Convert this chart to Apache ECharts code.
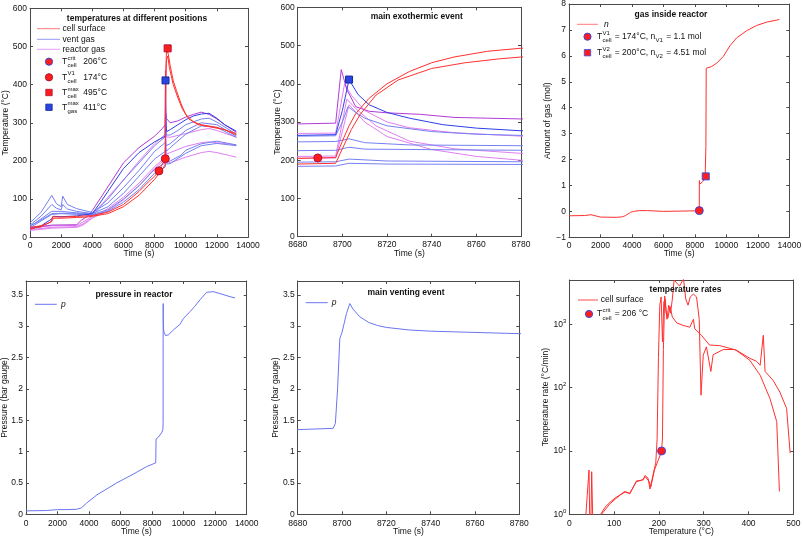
<!DOCTYPE html>
<html><head><meta charset="utf-8">
<script src="https://cdn.jsdelivr.net/npm/echarts@6/dist/echarts.min.js"></script>
<style>html,body{margin:0;padding:0;background:#fff}#c{width:803px;height:538px}</style>
</head><body><div id="c"></div>
<script>
// ---------------- DATA ----------------
// Temperatures (time s, °C)
const cellSurface1 = [[0,26],[700,30],[1350,40],[1450,54],[2000,53],[3000,55],[3600,56],[4000,57],[5000,66],[6000,86],[7000,120],[7600,145],[8000,160],[8280,174],[8500,192],[8680,205],[8697,207],[8700,250],[8703,290],[8706,322],[8712,362],[8720,400],[8730,432],[8740,455],[8750,470],[8765,485],[8780,493],[8840,495],[8880,480],[9000,450],[9200,410],[9400,385],[9700,350],[10000,322],[10500,302],[11000,295],[12000,288],[13250,272]];
const cellSurface2 = [[0,22],[700,27],[1400,42],[1500,50],[2000,50],[3000,52],[3600,53],[4000,55],[5000,62],[6000,80],[7000,110],[8000,152],[8500,178],[8680,190],[8697,192],[8700,230],[8704,280],[8708,320],[8715,370],[8725,410],[8740,440],[8755,455],[8770,465],[8780,470],[8850,475],[8950,445],[9200,400],[9500,365],[9800,335],[10200,310],[10800,295],[11500,290],[12500,282],[13250,268]];
const ventGas1 = [[0,22],[700,30],[1400,48],[1500,55],[2000,54],[3000,56],[4000,62],[4500,90],[5000,120],[6000,180],[7000,222],[8000,250],[8680,265],[8697,267],[8700,330],[8703,411],[8707,372],[8712,345],[8720,325],[8730,310],[8745,293],[8760,284],[8780,277],[9000,282],[9500,295],[10000,308],[10500,318],[11000,323],[11500,325],[12000,312],[12500,295],[13250,278]];
const ventGas2 = [[0,30],[700,45],[1400,62],[2000,63],[3000,63],[4000,62],[5000,100],[6000,150],[7000,195],[8000,240],[8680,263],[8697,264],[8700,300],[8702.5,340],[8706,325],[8710,310],[8720,290],[8740,275],[8760,268],[8780,265],[9000,268],[9500,280],[10000,295],[11000,310],[11500,312],[12000,302],[13250,270]];
const ventGas3 = [[0,38],[700,65],[1400,110],[1700,88],[2000,80],[2100,108],[2400,86],[3000,75],[4000,65],[5000,90],[6000,130],[7000,175],[8000,225],[8680,248],[8697,249],[8703,256],[8710,246],[8730,240],[8780,238],[9000,245],[10000,280],[11000,300],[12000,295],[13250,265]];
const ventGas4 = [[0,32],[700,55],[1400,86],[1700,76],[2000,72],[2100,86],[2400,74],[3000,68],[4000,62],[5000,80],[6000,115],[7000,160],[8000,205],[8680,225],[8697,226],[8703,234],[8710,229],[8780,226],[9000,235],[10000,270],[11000,292],[12000,288],[13250,262]];
const ventGas5 = [[0,28],[1400,68],[2000,68],[3000,64],[4000,60],[5000,72],[6000,100],[7000,135],[8000,178],[8680,195],[8697,196],[8703,203],[8720,198],[8780,196],[9000,200],[9700,215],[10000,228],[11000,245],[12000,252],[13250,242]];
const ventGas6 = [[0,25],[1400,60],[2000,62],[3000,60],[4000,58],[5000,68],[6000,92],[7000,125],[8000,168],[8680,184],[8697,185],[8703,192],[8720,190],[8780,189],[9000,193],[10000,220],[11000,240],[12000,246],[13250,240]];
const reactorGas1 = [[0,25],[1400,32],[3000,33],[3300,45],[3700,55],[4000,70],[5000,132],[6000,195],[7000,235],[8000,265],[8500,285],[8680,295],[8697,297],[8699.5,437],[8702,385],[8706,340],[8712,328],[8720,324],[8735,320],[8750,312],[8765,310],[8780,308],[9000,300],[9500,305],[10000,315],[10500,322],[11000,328],[11500,322],[12000,310],[12500,295],[13250,275]];
const reactorGas2 = [[0,24],[1400,30],[3000,31],[3400,40],[4000,55],[4500,80],[5000,105],[6000,150],[7000,200],[8000,245],[8680,270],[8697,271],[8701,400],[8704,370],[8710,330],[8720,300],[8730,285],[8750,272],[8780,263],[9000,262],[10000,272],[11000,282],[11500,285],[12000,280],[13250,262]];
const reactorGas3 = [[0,20],[1400,26],[3000,28],[3400,35],[4000,52],[5000,75],[6000,105],[7000,142],[8000,185],[8680,210],[8697,211],[8702,360],[8706,335],[8715,290],[8730,250],[8750,230],[8780,218],[9000,222],[10000,238],[11000,248],[11500,250],[12000,248],[13250,242]];
const reactorGas4 = [[0,18],[1400,24],[3000,26],[3400,32],[4000,50],[5000,70],[6000,98],[7000,135],[8000,180],[8680,205],[8697,206],[8703,345],[8710,300],[8720,262],[8740,228],[8760,210],[8780,200],[9000,195],[10000,210],[11000,222],[11500,225],[12000,222],[13250,210]];
const markCrit = [[8689,206]];
const markV1 = [[8280,174]];
const markCellMax = [[8840,495]];
const markGasMax = [[8703,411]];
// Amount of gas (time s, mol)
const gasAmount = [[0,-0.17],[1000,-0.16],[1400,-0.13],[1500,-0.16],[2000,-0.22],[3000,-0.23],[3400,-0.21],[3600,-0.16],[3900,-0.04],[4100,0.0],[4500,0.03],[5000,0.03],[6000,0.0],[7000,0.01],[8000,0.02],[8280,0.03],[8285,1.19],[8310,1.05],[8500,1.15],[8650,1.30],[8690,1.35],[8700,2.5],[8720,5.52],[9070,5.59],[9390,5.72],[9810,5.98],[10230,6.39],[10650,6.69],[11290,6.97],[11920,7.17],[12560,7.30],[13360,7.40]];
const markNV1 = [[8280,0.03]];
const markNV2 = [[8690,1.35]];
// Pressure (time s, bar gauge)
const pressure = [[0,0.055],[1300,0.06],[1420,0.085],[2000,0.075],[2600,0.075],[3200,0.08],[3500,0.1],[3850,0.18],[4500,0.31],[5750,0.5],[6800,0.64],[7650,0.76],[8230,0.82],[8250,1.2],[8400,1.23],[8600,1.3],[8680,1.35],[8696,1.37],[8697,1.45],[8698,2.0],[8699,2.8],[8700,2.9],[8702,3.2],[8703.5,3.36],[8705,3.27],[8708,3.15],[8712,3.06],[8716,3.01],[8720,2.98],[8730,2.94],[8740,2.92],[8750,2.91],[8760,2.9],[8780,2.88],[8850,2.85],[9030,2.86],[9350,2.94],[9770,3.03],[9980,3.12],[10400,3.23],[10720,3.32],[11040,3.42],[11460,3.54],[11880,3.55],[12300,3.52],[12940,3.47],[13260,3.45]];
// Temperature rates (°C, °C/min)
const rateLow = [[35,0.6],[40,2],[44,5],[46,0.5],[48,0.6],[50,4.7],[53,0.5]];
const rateA = [[70,1.0],[80,1.3],[91,1.55],[102,1.8],[112,2.0],[124,2.3],[135,2.1],[150,3.35],[165,3.5],[169,4.1],[176,3.7],[180,2.5],[187,4.2],[193,6.5],[196,15],[199,300],[202,2000],[205,2700],[208,530],[211,2250],[214,2500],[218,1200],[222,2000],[226,1500],[230,2500],[234,5000],[246,4000],[255,5200],[260,2500],[265,2000],[270,2700],[277,3000],[284,2700],[290,1200],[294,76],[299,325],[306,440],[316,180],[321,330],[344,400],[370,400],[403,270],[426,157],[448,67],[463,29],[469,2.3]];
const rateB = [[72,1.0],[90,1.45],[103,1.75],[115,2.05],[125,2.25],[135,2.15],[150,3.3],[162,3.45],[170,3.9],[178,3.3],[182,2.7],[190,5.0],[198,7],[204,9],[206,10],[208,16],[210,400],[213,2800],[216,1500],[220,1250],[225,1900],[230,1300],[240,1050],[254,960],[269,900],[277,1200],[280,850],[295,670],[313,470],[336,460],[373,390],[403,290],[418,260],[426,225],[433,670],[437,180],[455,130],[470,85],[485,47],[493,9.2]];
const markRateCrit = [[206,10]];

// ---------------- STYLE ----------------
const FONT = "'Liberation Sans Narrow','Liberation Sans',Arial,sans-serif";
const FS = 8.5, SS = 6;
const AX = '#4a4a4a', TXT = '#111';
const RED = '#ff3030', BLUE_D = '#2f3fe6', BLUE_L = '#7480f2', MAG_D = '#b23ad6', MAG_L = '#e07ef0', PBLUE = '#6a76f0';

const grids = [
  {left:30, top:8.3, width:218, height:229},
  {left:297.7, top:7.3, width:223.3, height:229.4},
  {left:569, top:4, width:220.3, height:233.3},
  {left:26, top:281, width:220.7, height:233.3},
  {left:297.7, top:281, width:221.6, height:233.3},
  {left:569.3, top:280, width:224, height:234.3}
].map(g => Object.assign(g, {outerBoundsMode:'none', containLabel:false}));

const xAxes = [], yAxes = [];
function baseAxis(gi, o) {
  return {gridIndex:gi, type:o.type||'value', min:o.min, max:o.max, interval:o.interval, logBase:o.logBase,
    axisLine:{show:true, onZero:false, lineStyle:{color:AX, width:1}},
    axisTick:{show:true, inside:true, length:3, lineStyle:{color:AX, width:1}},
    splitLine:{show:false}, minorTick:{show:false}, axisPointer:{show:false}};
}
const plainFmt = v => String(v).replace('-', '\u2212');
function labelStyle(extra) {
  return Object.assign({show:true, color:TXT, fontSize:FS, fontFamily:FONT, margin:3, hideOverlap:false, formatter:plainFmt}, extra||{});
}
function nameStyle() { return {color:TXT, fontSize:FS, fontFamily:FONT}; }
function addAxes(gi, xo, yo) {
  xAxes.push(Object.assign(baseAxis(gi, xo), {position:'bottom', axisLabel:labelStyle({margin:xo.margin||3.5}),
    name:xo.name, nameLocation:'middle', nameGap:xo.gap, nameTextStyle:nameStyle(), nameMoveOverlap:false}));
  xAxes.push(Object.assign(baseAxis(gi, xo), {position:'top', axisLabel:{show:false}}));
  yAxes.push(Object.assign(baseAxis(gi, yo), {position:'left', axisLabel:labelStyle(yo.label||{}),
    name:yo.name, nameLocation:'middle', nameGap:yo.gap, nameTextStyle:nameStyle(), nameMoveOverlap:false}));
  yAxes.push(Object.assign(baseAxis(gi, yo), {position:'right', axisLabel:{show:false}}));
}
addAxes(0, {min:0, max:14000, interval:2000, name:'Time (s)', gap:12}, {min:0, max:600, interval:100, name:'Temperature (\u00B0C)', gap:19.5});
addAxes(1, {min:8680, max:8780, interval:20, name:'Time (s)', gap:12}, {min:0, max:600, interval:100, name:'Temperature (\u00B0C)', gap:16});
addAxes(2, {min:0, max:14000, interval:2000, name:'Time (s)', gap:12}, {min:-1, max:8, interval:1, name:'Amount of gas (mol)', gap:16.4});
addAxes(3, {min:0, max:14000, interval:2000, name:'Time (s)', gap:13, margin:4.5}, {min:0, max:3.72, interval:0.5, name:'Pressure (bar gauge)', gap:16.7, label:{showMaxLabel:false}});
addAxes(4, {min:8680, max:8780, interval:20, name:'Time (s)', gap:13, margin:4.5}, {min:0, max:3.72, interval:0.5, name:'Pressure (bar gauge)', gap:17.4, label:{showMaxLabel:false}});
addAxes(5, {min:0, max:500, interval:100, name:'Temperature (\u00B0C)', gap:13, margin:4.5},
  {type:'log', logBase:10, min:1, max:5000, name:'Temperature rate (\u00B0C/min)', gap:19,
   label:{showMaxLabel:false, formatter:v => { const e = Math.round(Math.log10(v)); return Math.abs(Math.pow(10,e)-v) < 1e-6*v ? '10{s|'+e+'}' : ''; },
          rich:{s:{fontSize:SS, fontFamily:FONT, color:TXT, padding:[0,0,6,0]}}}});

const series = [];
function line(gi, data, color, w) {
  series.push({type:'line', xAxisIndex:2*gi, yAxisIndex:2*gi, data, symbol:'none', showSymbol:false,
    lineStyle:{color, width:w||1}, animation:false, silent:true, clip:true, z:2});
}
function scat(gi, data, symbol, size, color, border) {
  series.push({type:'scatter', xAxisIndex:2*gi, yAxisIndex:2*gi, data, symbol, symbolSize:size,
    itemStyle:{color, borderColor:border, borderWidth:1, opacity:1}, animation:false, silent:true, clip:true, z:5});
}
const reactor = [reactorGas2, reactorGas3, reactorGas4];
const vent = [ventGas2, ventGas3, ventGas4, ventGas5, ventGas6];
for (const gi of [0,1]) {
  reactor.forEach(d => line(gi, d, MAG_L));
  line(gi, reactorGas1, MAG_D);
  vent.forEach(d => line(gi, d, BLUE_L));
  line(gi, ventGas1, BLUE_D);
  line(gi, cellSurface2, RED);
  line(gi, cellSurface1, RED);
  scat(gi, markV1, 'circle', 8, '#ff1c1c', '#b01030');
  scat(gi, markCrit, 'circle', 8, '#ff1c1c', '#b01030');
  scat(gi, markCellMax, 'rect', 7, '#ff1c1c', '#b01030');
  scat(gi, markGasMax, 'rect', 7, '#2a44e0', '#1a2aa0');
}
line(2, gasAmount, RED);
scat(2, markNV1, 'circle', 8, '#ff1c1c', '#3a4ae0');
scat(2, markNV2, 'rect', 7, '#ff1c1c', '#3a4ae0');
line(3, pressure, PBLUE);
line(4, pressure, PBLUE);
line(5, rateLow, RED);
line(5, rateB, RED);
line(5, rateA, RED);
scat(5, markRateCrit, 'circle', 8, '#ff1c1c', '#3a4ae0');

// ---------------- TITLES & LEGENDS (graphic) ----------------
const ctx = document.createElement('canvas').getContext('2d');
function tw(text, size, pre) { ctx.font = (pre||'') + ' ' + size + 'px ' + FONT; return ctx.measureText(text).width; }
const G = [];
function txt(x, y, text, size, o) {
  o = o || {};
  const pre = (o.italic ? 'italic ' : '') + (o.bold ? 'bold ' : '');
  G.push({type:'text', x, y, silent:true, z:100, style:{text, font: pre + size + 'px ' + FONT, fill:TXT,
    align:o.align||'left', verticalAlign:'middle', textAlign:o.align||'left', textVerticalAlign:'middle'}});
}
function math(x, y, segs) {
  let cx = x;
  for (const s of segs) {
    if (typeof s === 'string') { txt(cx, y, s, FS); cx += tw(s, FS); }
    else {
      let w = 0;
      if (s.sup) { txt(cx + 0.3, y - 3.6, s.sup, SS); w = Math.max(w, tw(s.sup, SS)); }
      if (s.sub) { txt(cx + 0.3, y + 3.9, s.sub, SS); w = Math.max(w, tw(s.sub, SS)); }
      cx += w + 1.2;
    }
  }
}
function lline(x1, x2, y, color) {
  G.push({type:'line', silent:true, z:100, shape:{x1, y1:y, x2, y2:y}, style:{stroke:color, lineWidth:1}});
}
function circ(cx, cy, fill, stroke) {
  G.push({type:'circle', silent:true, z:100, shape:{cx, cy, r:3.6}, style:{fill, stroke, lineWidth:1}});
}
function sq(cx, cy, fill, stroke) {
  G.push({type:'rect', silent:true, z:100, shape:{x:cx-3.2, y:cy-3.2, width:6.4, height:6.4}, style:{fill, stroke, lineWidth:0.8}});
}
// titles
txt(137, 19, 'temperatures at different positions', FS, {bold:true, align:'center'});
txt(416.7, 16.7, 'main exothermic event', FS, {bold:true, align:'center'});
txt(671, 15, 'gas inside reactor', FS, {bold:true, align:'center'});
txt(134, 295, 'pressure in reactor', FS, {bold:true, align:'center'});
txt(406, 292.7, 'main venting event', FS, {bold:true, align:'center'});
txt(685.5, 290, 'temperature rates', FS, {bold:true, align:'center'});
// panel 1 legend
lline(37, 60, 28.7, '#ff7a7a'); txt(62.5, 28.7, 'cell surface', FS);
lline(37, 60, 39.3, '#939cf5'); txt(62.5, 39.3, 'vent gas', FS);
lline(37, 60, 49.3, '#e79cf5'); txt(62.5, 49.3, 'reactor gas', FS);
circ(49, 61.7, '#ff1c1c', '#3a4ae0'); math(62, 61.7, ['T', {sup:'crit', sub:'cell'}]); txt(83.3, 61.7, '206\u00B0C', FS);
circ(49, 77.3, '#ff1c1c', '#b01030'); math(62, 77.3, ['T', {sup:'V1', sub:'cell'}]); txt(83.3, 77.3, '174\u00B0C', FS);
sq(49, 92.5, '#ff1c1c', '#b01030'); math(62, 92.5, ['T', {sup:'max', sub:'cell'}]); txt(83.3, 92.5, '495\u00B0C', FS);
sq(49, 107.3, '#2a44e0', '#1a2aa0'); math(62, 107.3, ['T', {sup:'max', sub:'gas'}]); txt(83.3, 107.3, '411\u00B0C', FS);
// panel 3 legend
lline(577, 598, 24.3, '#ff7a7a'); txt(604, 24.3, 'n', FS, {italic:true});
circ(587.5, 36.7, '#ff1c1c', '#3a4ae0'); math(597, 36.7, ['T', {sup:'V1', sub:'cell'}, ' = 174\u00B0C, n', {sub:'V1'}, ' = 1.1 mol']);
sq(587.5, 52.7, '#ff1c1c', '#3a4ae0'); math(597, 52.7, ['T', {sup:'V2', sub:'cell'}, ' = 200\u00B0C, n', {sub:'V2'}, ' = 4.51 mol']);
// panel 4 & 5 legends
lline(35, 56.7, 304.3, PBLUE); txt(61, 304.3, 'p', FS, {italic:true});
lline(305.7, 327.7, 302.7, PBLUE); txt(331.7, 302.7, 'p', FS, {italic:true});
// panel 6 legend
lline(578, 598, 300, '#ff4a4a'); txt(600.7, 300, 'cell surface', FS);
circ(589, 314, '#ff1c1c', '#3a4ae0'); math(597, 314, ['T', {sup:'crit', sub:'cell'}, ' = 206 \u00B0C']);

const chart = echarts.init(document.getElementById('c'), null, {renderer:'canvas'});
chart.setOption({
  backgroundColor:'#ffffff', animation:false,
  textStyle:{fontFamily:FONT},
  grid:grids, xAxis:xAxes, yAxis:yAxes, series, graphic:{elements:G}
});
</script></body></html>
